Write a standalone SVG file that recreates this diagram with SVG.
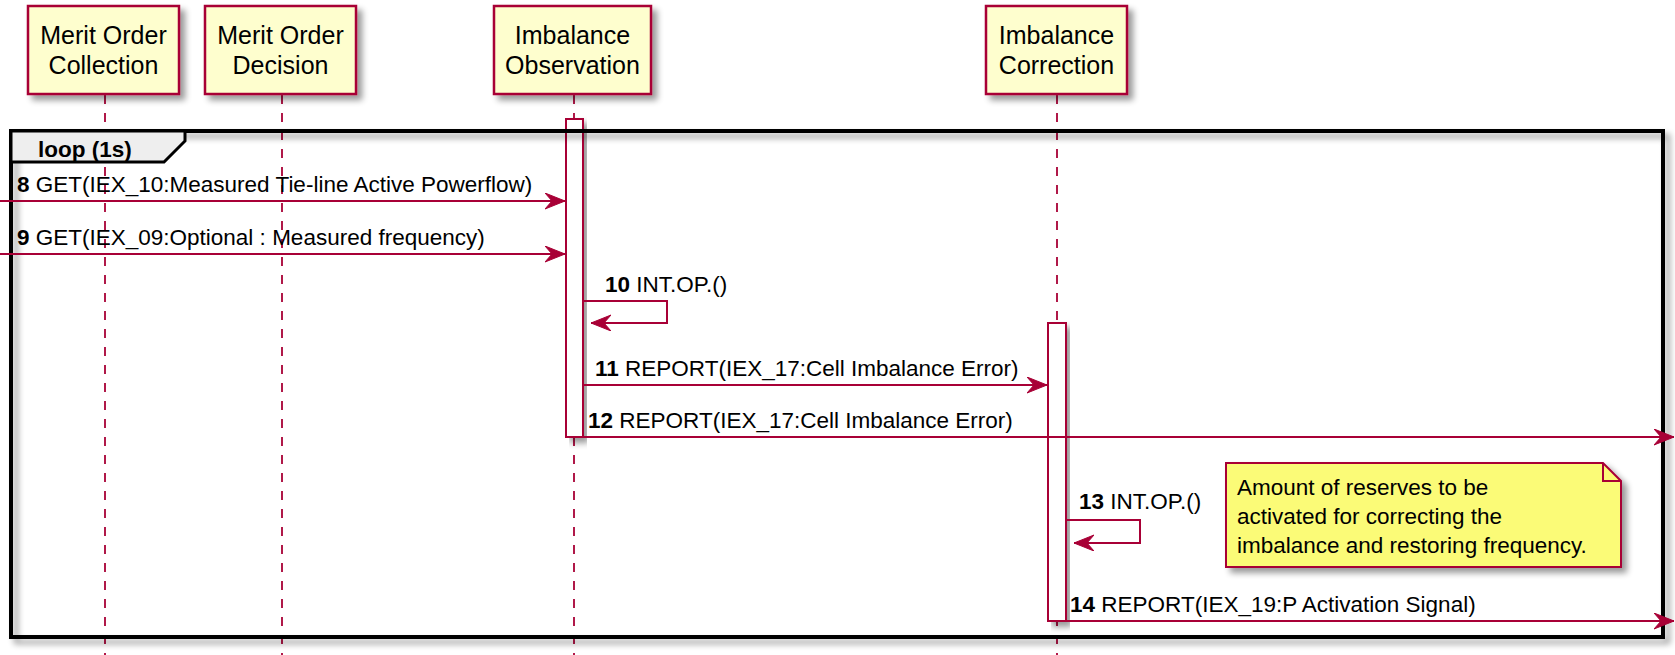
<svg xmlns="http://www.w3.org/2000/svg" width="1675" height="655" viewBox="0 0 1675 655">
<style>
.pbox{fill:#FEFECE;stroke:#A80036;stroke-width:2.5}
.ptxt{font-family:"Liberation Sans",Arial,sans-serif;font-size:25px;fill:#000;text-anchor:middle}
.life{stroke:#A80036;stroke-width:1.8;stroke-dasharray:9,9;fill:none}
.act{fill:#FFFFFF;stroke:#A80036;stroke-width:2}
.msg{stroke:#A80036;stroke-width:2;fill:none}
.mtxt{font-family:"Liberation Sans",Arial,sans-serif;font-size:22.5px;fill:#000}
.num{font-weight:bold}
.frame{fill:none;stroke:#000;stroke-width:4}
.tab{fill:#EEEEEE;stroke:#000;stroke-width:3}
.note{fill:#FBFB77;stroke:#A80036;stroke-width:2}
</style>
<defs>
<filter id="sh" x="-10%" y="-10%" width="130%" height="130%">
<feGaussianBlur in="SourceAlpha" stdDeviation="3"/>
<feOffset dx="5" dy="5" result="b"/>
<feComponentTransfer><feFuncA type="linear" slope="0.4"/></feComponentTransfer>
<feMerge><feMergeNode/><feMergeNode in="SourceGraphic"/></feMerge>
</filter>
<marker id="ah" markerUnits="userSpaceOnUse" markerWidth="22" markerHeight="18" viewBox="0 0 22 18" refX="20" refY="8" orient="auto">
<path d="M0,0 L20,8 L0,16 L7,8 Z" fill="#A80036" stroke="#A80036" stroke-width="1"/>
</marker>
</defs>
<rect width="1675" height="655" fill="#FFFFFF"/>

<g id="lifelines">
<line class="life" x1="105" y1="95" x2="105" y2="655"/>
<line class="life" x1="282" y1="95" x2="282" y2="655"/>
<line class="life" x1="574" y1="95" x2="574" y2="655"/>
<line class="life" x1="1057" y1="95" x2="1057" y2="655"/>
</g>

<g id="p-merit-order-collection">
<rect class="pbox" x="28" y="6" width="151" height="88" filter="url(#sh)"/>
<text class="ptxt" x="103.5" y="44">Merit Order</text>
<text class="ptxt" x="103.5" y="74">Collection</text>
</g>
<g id="p-merit-order-decision">
<rect class="pbox" x="205" y="6" width="151" height="88" filter="url(#sh)"/>
<text class="ptxt" x="280.5" y="44">Merit Order</text>
<text class="ptxt" x="280.5" y="74">Decision</text>
</g>
<g id="p-imbalance-observation">
<rect class="pbox" x="494" y="6" width="157" height="88" filter="url(#sh)"/>
<text class="ptxt" x="572.5" y="44">Imbalance</text>
<text class="ptxt" x="572.5" y="74">Observation</text>
</g>
<g id="p-imbalance-correction">
<rect class="pbox" x="986" y="6" width="141" height="88" filter="url(#sh)"/>
<text class="ptxt" x="1056.5" y="44">Imbalance</text>
<text class="ptxt" x="1056.5" y="74">Correction</text>
</g>

<g id="activations">
<rect class="act" x="566" y="119" width="17" height="318" filter="url(#sh)"/>
<rect class="act" x="1048" y="323" width="18" height="298" filter="url(#sh)"/>
</g>

<g id="loop-frame">
<rect class="frame" x="11" y="131" width="1652" height="506" filter="url(#sh)"/>
<path class="tab" d="M11,131 L185,131 L185,141 L164,162 L11,162 Z"/>
<text class="mtxt num" x="38" y="157">loop (1s)</text>
</g>

<g id="note">
<path class="note" d="M1226,463 L1603,463 L1621,481 L1621,567 L1226,567 Z" filter="url(#sh)"/>
<path d="M1603,463 L1603,481 L1621,481" fill="none" stroke="#A80036" stroke-width="2"/>
<text class="mtxt" x="1237" y="495">Amount of reserves to be</text>
<text class="mtxt" x="1237" y="524">activated for correcting the</text>
<text class="mtxt" x="1237" y="553">imbalance and restoring frequency.</text>
</g>

<g id="connectors">
<line class="msg" x1="0" y1="201" x2="565" y2="201" marker-end="url(#ah)"/>
<text class="mtxt" x="17" y="192"><tspan class="num">8</tspan> GET(IEX_10:Measured Tie-line Active Powerflow)</text>

<line class="msg" x1="0" y1="254" x2="565" y2="254" marker-end="url(#ah)"/>
<text class="mtxt" x="17" y="245"><tspan class="num">9</tspan> GET(IEX_09:Optional : Measured frequency)</text>

<polyline class="msg" points="583,301 667,301 667,323 591,323" marker-end="url(#ah)"/>
<text class="mtxt" x="605" y="292"><tspan class="num">10</tspan> INT.OP.()</text>

<line class="msg" x1="583" y1="385" x2="1047" y2="385" marker-end="url(#ah)"/>
<text class="mtxt" x="595" y="376"><tspan class="num">11</tspan> REPORT(IEX_17:Cell Imbalance Error)</text>

<line class="msg" x1="583" y1="437" x2="1674" y2="437" marker-end="url(#ah)"/>
<text class="mtxt" x="588" y="428"><tspan class="num">12</tspan> REPORT(IEX_17:Cell Imbalance Error)</text>

<polyline class="msg" points="1066,520 1140,520 1140,543 1074,543" marker-end="url(#ah)"/>
<text class="mtxt" x="1079" y="509"><tspan class="num">13</tspan> INT.OP.()</text>

<line class="msg" x1="1066" y1="621" x2="1674" y2="621" marker-end="url(#ah)"/>
<text class="mtxt" x="1070" y="612"><tspan class="num">14</tspan> REPORT(IEX_19:P Activation Signal)</text>
</g>
</svg>
